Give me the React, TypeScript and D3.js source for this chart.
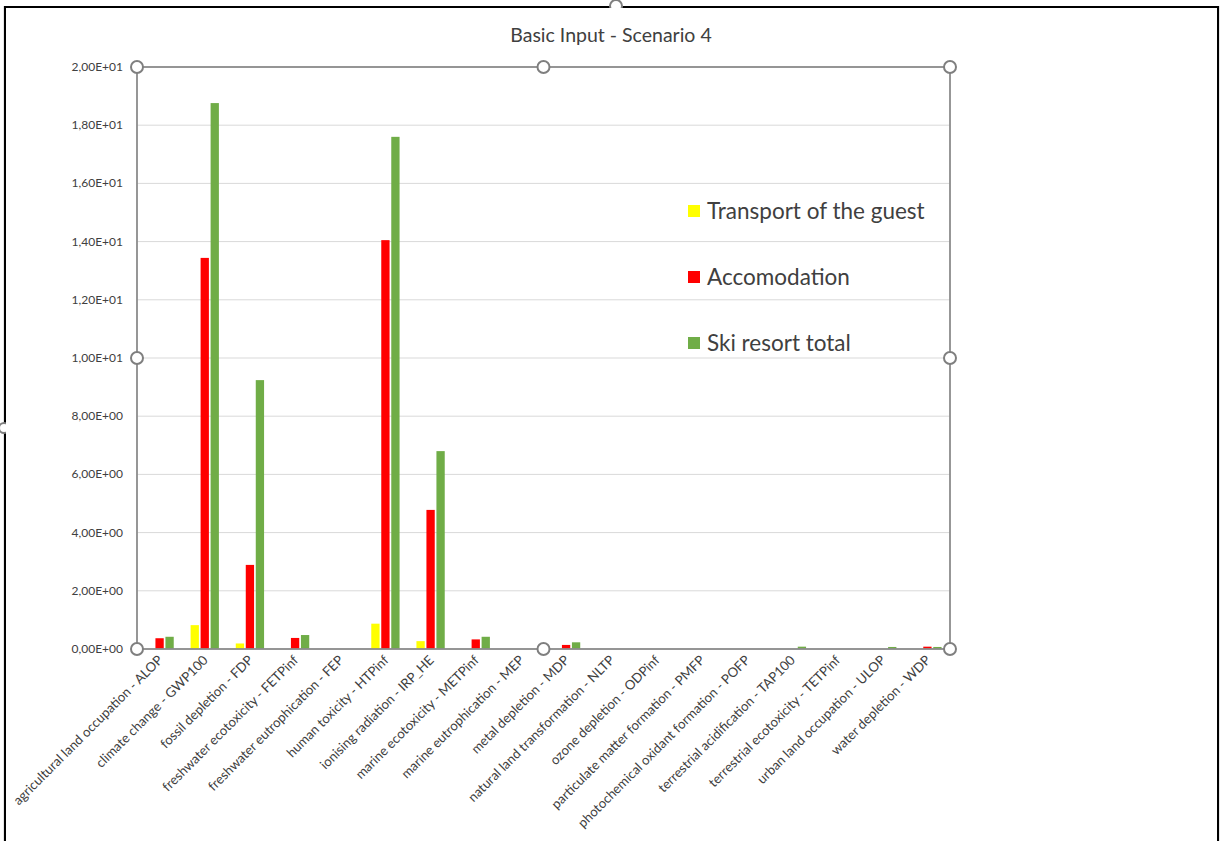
import React from "react";
import * as d3 from "d3";

const categories = [
  "agricultural land occupation - ALOP",
  "climate change - GWP100",
  "fossil depletion - FDP",
  "freshwater ecotoxicity - FETPinf",
  "freshwater eutrophication - FEP",
  "human toxicity - HTPinf",
  "ionising radiation - IRP_HE",
  "marine ecotoxicity - METPinf",
  "marine eutrophication - MEP",
  "metal depletion - MDP",
  "natural land transformation - NLTP",
  "ozone depletion - ODPinf",
  "particulate matter formation - PMFP",
  "photochemical oxidant formation - POFP",
  "terrestrial acidification - TAP100",
  "terrestrial ecotoxicity - TETPinf",
  "urban land occupation - ULOP",
  "water depletion - WDP",
];

const transport = [0, 0.82, 0.19, 0, 0, 0.87, 0.27, 0, 0, 0, 0, 0, 0, 0, 0, 0, 0, 0];
const accomodation = [0.37, 13.44, 2.89, 0.38, 0, 14.05, 4.78, 0.33, 0, 0.14, 0, 0, 0, 0, 0, 0, 0, 0.08];
const skiTotal = [0.42, 18.76, 9.24, 0.48, 0, 17.6, 6.8, 0.42, 0, 0.23, 0, 0, 0, 0, 0.08, 0, 0.07, 0.07];

const seriesNames = ["Transport of the guest", "Accomodation", "Ski resort total"];
const seriesColors = ["#FFFF00", "#FF0000", "#70AD47"];
const yTicks = [0, 2, 4, 6, 8, 10, 12, 14, 16, 18, 20];
const title = "Basic Input - Scenario 4";

const FONT = "Lato, 'Open Sans', sans-serif";

function fmt(v: number) {
  if (v === 0) return "0,00E+00";
  const e = Math.floor(Math.log10(v));
  const m = v / Math.pow(10, e);
  const es = (e >= 0 ? "+" : "-") + String(Math.abs(e)).padStart(2, "0");
  return m.toFixed(2).replace(".", ",") + "E" + es;
}

export default function App() {
  const W = 1226, H = 841;
  const left = 137, right = 950, top = 67, bottom = 649;
  const x = d3.scaleBand().domain(categories).range([left, right]).padding(0);
  const y = d3.scaleLinear().domain([0, 20]).range([bottom, top]);
  const series = [transport, accomodation, skiTotal];
  const barW = 8.3;
  const step = 10;
  const handles = [
    [left, top], [(left + right) / 2, top], [right, top],
    [left, (top + bottom) / 2], [right, (top + bottom) / 2],
    [left, bottom], [(left + right) / 2, bottom], [right, bottom],
  ];
  return (
    <svg width={W} height={H} style={{ position: "absolute", left: 0, top: 0, background: "#fff" }}>
      <rect x={0} y={0} width={W} height={H} fill="#fff" />
      {/* outer frame */}
      <path d={`M5,${H} L5,7 L1218,7 L1218,${H}`} fill="none" stroke="#000" strokeWidth={2.2} />
      <circle cx={616} cy={6} r={6} fill="#fff" stroke="#7f7f7f" strokeWidth={2} />
      <circle cx={4} cy={428} r={5} fill="#fff" stroke="#7f7f7f" strokeWidth={2} />
      <rect x={6} y={8} width={1211} height={H} fill="#fff" />
      {/* title */}
      <text x={611} y={42} textAnchor="middle" fontFamily={FONT} fontSize={19.5} fill="#404040">{title}</text>
      {/* gridlines */}
      {yTicks.map((t) => (
        <line key={t} x1={left} x2={right} y1={y(t)} y2={y(t)} stroke="#d9d9d9" strokeWidth={1} />
      ))}
      {/* y labels */}
      {yTicks.map((t) => (
        <text key={"l" + t} x={123} y={y(t) + 4} textAnchor="end" fontFamily={FONT} fontSize={12} fill="#404040">{fmt(t)}</text>
      ))}
      {/* bars */}
      {series.map((vals, si) =>
        vals.map((v, i) => {
          if (v <= 0) return null;
          const cx = (x(categories[i]) as number) + x.bandwidth() / 2 + (si - 1) * step;
          return (
            <rect key={si + "-" + i} x={cx - barW / 2} y={y(v)} width={barW} height={bottom - y(v)} fill={seriesColors[si]} />
          );
        })
      )}
      {/* plot border */}
      <rect x={left} y={top} width={right - left} height={bottom - top} fill="none" stroke="#8c8c8c" strokeWidth={1.8} />
      {handles.map(([hx, hy], i) => (
        <circle key={"h" + i} cx={hx} cy={hy} r={6} fill="#fff" stroke="#7f7f7f" strokeWidth={2} />
      ))}
      {/* x labels */}
      {categories.map((c) => {
        const cx = (x(c) as number) + x.bandwidth() / 2 + 4;
        return (
          <text key={c} transform={`translate(${cx},${661}) rotate(-45)`} textAnchor="end" fontFamily={FONT} fontSize={13.2} fill="#404040">{c}</text>
        );
      })}
      {/* legend */}
      {seriesNames.map((n, i) => (
        <g key={n} transform={`translate(688,${205 + i * 66})`}>
          <rect x={0} y={0} width={12} height={12} fill={seriesColors[i]} />
          <text x={19} y={14} fontFamily={FONT} fontSize={22.5} fill="#404040">{n}</text>
        </g>
      ))}
    </svg>
  );
}
